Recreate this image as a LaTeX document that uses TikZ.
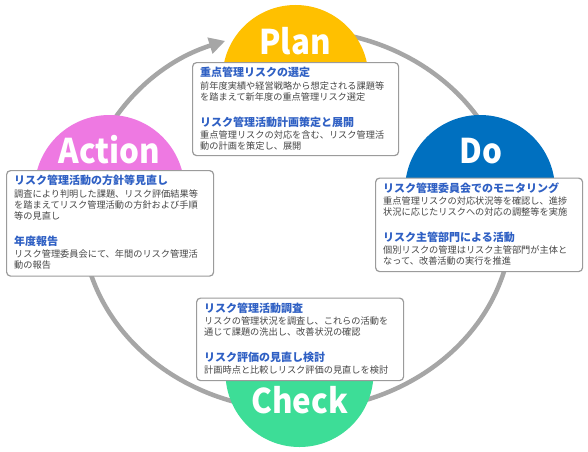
\documentclass[tikz,border=0pt]{standalone}
\usepackage{fontspec}
\setmainfont{Noto Sans CJK JP}
\usetikzlibrary{arrows.meta}
\definecolor{ringgray}{RGB}{166,166,166}
\definecolor{plancol}{RGB}{255,192,0}
\definecolor{docol}{RGB}{0,112,192}
\definecolor{checkcol}{RGB}{61,221,151}
\definecolor{actcol}{RGB}{238,121,226}
\definecolor{titleblue}{RGB}{47,96,196}
\definecolor{bodygray}{RGB}{70,70,70}
\definecolor{boxgray}{RGB}{155,155,155}
\newcommand\phaselabel[1]{\scalebox{0.92}[1]{#1}}
\begin{document}
\begin{tikzpicture}[x=1pt,y=1pt,
  ring/.style={draw=ringgray, line width=4.5pt, -{Triangle[length=16pt,width=16pt]}},
  phase/.style={circle, inner sep=0, draw=none},
  lbl/.style={inner sep=0, anchor=base, text=white, font=\fontsize{34}{40}\selectfont\bfseries},
  infobox/.style={draw=boxgray, line width=1.2pt, fill=white, rounded corners=4pt, anchor=north west, inner sep=0},
  ttl/.style={inner sep=0, anchor=base west, text=titleblue, font=\fontsize{11}{13}\selectfont\bfseries},
  bdy/.style={inner sep=0, anchor=base west, text=bodygray, font=\fontsize{9.2}{11}\selectfont}]
\useasboundingbox (0,0) rectangle (588,451);
\fill[white] (0,0) rectangle (588,451);
% cycle ring
\coordinate (ringc) at (297,231);
\draw[ring] (ringc) ++(80:215 and 190) arc[start angle=80, end angle=-250.5, x radius=215, y radius=190];
% phase circles
\node[phase, fill=plancol, minimum size=146] (plan) at (295.5,373) {};
\node[phase, fill=docol, minimum size=150] (do) at (480,261) {};
\node[phase, fill=actcol, minimum size=150] (act) at (109.5,261) {};
\node[phase, fill=checkcol, minimum size=148] (chk) at (299.5,78) {};
% labels
\node[lbl] (planl) at (295,397) {\phaselabel{Plan}};
\node[lbl] (actl) at (109.6,287.7) {\phaselabel{Action}};
\node[lbl] (dol) at (480.6,287.7) {\phaselabel{Do}};
\node[lbl] (chkl) at (299.6,38) {\phaselabel{Check}};
% Plan box
\node[infobox, minimum width=206, minimum height=93] (pbox) at (192,389) {};
\node[ttl] (pt1) at ([shift={(8,-14.8)}]pbox.north west) {重点管理リスクの選定};
\node[bdy] (pb1) at ([yshift=-12.2pt]pt1.base west) {前年度実績や経営戦略から想定される課題等};
\node[bdy] (pb2) at ([yshift=-11.1pt]pb1.base west) {を踏まえて新年度の重点管理リスク選定};
\node[ttl] (pt2) at ([yshift=-25.9pt]pb2.base west) {リスク管理活動計画策定と展開};
\node[bdy] (pb3) at ([yshift=-12.2pt]pt2.base west) {重点管理リスクの対応を含む、リスク管理活};
\node[bdy] (pb4) at ([yshift=-11.1pt]pb3.base west) {動の計画を策定し、展開};
% Action box
\node[infobox, minimum width=207, minimum height=105.5] (abox) at (6,281) {};
\node[ttl] (at1) at ([shift={(8,-14.8)}]abox.north west) {リスク管理活動の方針等見直し};
\node[bdy] (ab1) at ([yshift=-12.2pt]at1.base west) {調査により判明した課題、リスク評価結果等};
\node[bdy] (ab2) at ([yshift=-11.1pt]ab1.base west) {を踏まえてリスク管理活動の方針および手順};
\node[bdy] (ab3) at ([yshift=-11.1pt]ab2.base west) {等の見直し};
\node[ttl] (at2) at ([yshift=-25.9pt]ab3.base west) {年度報告};
\node[bdy] (ab4) at ([yshift=-12.2pt]at2.base west) {リスク管理委員会にて、年間のリスク管理活};
\node[bdy] (ab5) at ([yshift=-11.1pt]ab4.base west) {動の報告};
% Do box
\node[infobox, minimum width=207, minimum height=93.5] (dbox) at (375,273.5) {};
\node[ttl] (dt1) at ([shift={(8,-14.8)}]dbox.north west) {リスク管理委員会でのモニタリング};
\node[bdy] (db1) at ([yshift=-12.2pt]dt1.base west) {重点管理リスクの対応状況等を確認し、進捗};
\node[bdy] (db2) at ([yshift=-11.1pt]db1.base west) {状況に応じたリスクへの対応の調整等を実施};
\node[ttl] (dt2) at ([yshift=-25.9pt]db2.base west) {リスク主管部門による活動};
\node[bdy] (db3) at ([yshift=-12.2pt]dt2.base west) {個別リスクの管理はリスク主管部門が主体と};
\node[bdy] (db4) at ([yshift=-11.1pt]db3.base west) {なって、改善活動の実行を推進};
% Check box
\node[infobox, minimum width=207, minimum height=82.5] (cbox) at (196,153.5) {};
\node[ttl] (ct1) at ([shift={(8,-14.8)}]cbox.north west) {リスク管理活動調査};
\node[bdy] (cb1) at ([yshift=-12.2pt]ct1.base west) {リスクの管理状況を調査し、これらの活動を};
\node[bdy] (cb2) at ([yshift=-11.1pt]cb1.base west) {通じて課題の洗出し、改善状況の確認};
\node[ttl] (ct2) at ([yshift=-25.9pt]cb2.base west) {リスク評価の見直し検討};
\node[bdy] (cb3) at ([yshift=-12.2pt]ct2.base west) {計画時点と比較しリスク評価の見直しを検討};
\end{tikzpicture}
\end{document}
